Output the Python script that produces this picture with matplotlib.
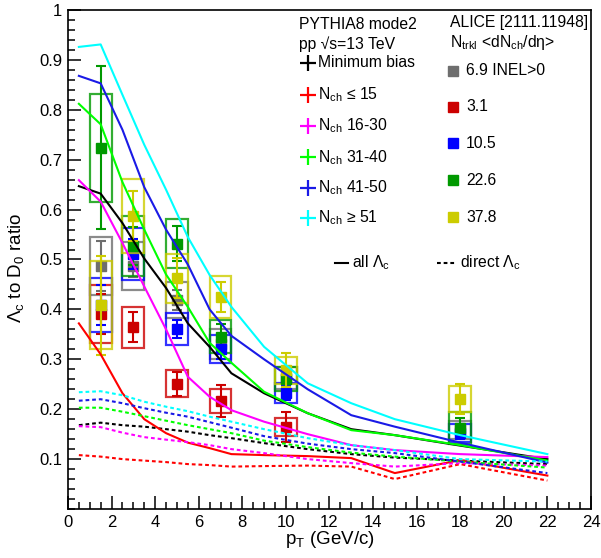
import numpy as np
import matplotlib.pyplot as plt
from matplotlib.patches import Rectangle
from matplotlib.ticker import MultipleLocator, FixedLocator

plt.rcParams['font.family'] = ['Liberation Sans', 'DejaVu Sans']
plt.rcParams['mathtext.fontset'] = 'custom'
plt.rcParams['mathtext.rm'] = 'Liberation Sans'
plt.rcParams['mathtext.it'] = 'Liberation Sans:italic'

# PYTHIA8 model curves, Lambda_c / D0 vs pT
pt_model = [0.5, 1.5, 2.5, 3.5, 4.5, 5.5, 6.5, 7.5, 9, 11, 13, 15, 18, 22]

all_mb   = [0.647, 0.632, 0.573, 0.502, 0.443, 0.372, 0.325, 0.272, 0.232, 0.192, 0.160, 0.148, 0.127, 0.100]
all_n15  = [0.372, 0.310, 0.232, 0.180, 0.152, 0.133, 0.122, 0.110, 0.108, 0.106, 0.102, 0.072, 0.098, 0.067]
all_n30  = [0.659, 0.616, 0.533, 0.446, 0.360, 0.265, 0.225, 0.198, 0.175, 0.150, 0.128, 0.118, 0.110, 0.104]
all_n40  = [0.812, 0.771, 0.655, 0.560, 0.470, 0.405, 0.333, 0.293, 0.235, 0.192, 0.158, 0.148, 0.128, 0.097]
all_n50  = [0.868, 0.853, 0.760, 0.645, 0.560, 0.490, 0.400, 0.347, 0.300, 0.240, 0.188, 0.165, 0.133, 0.093]
all_n51  = [0.926, 0.931, 0.830, 0.730, 0.640, 0.545, 0.469, 0.405, 0.325, 0.252, 0.212, 0.180, 0.148, 0.110]

dir_mb   = [0.168, 0.173, 0.168, 0.165, 0.160, 0.155, 0.148, 0.142, 0.132, 0.120, 0.110, 0.103, 0.097, 0.090]
dir_n15  = [0.108, 0.105, 0.100, 0.097, 0.094, 0.090, 0.088, 0.085, 0.086, 0.087, 0.085, 0.060, 0.090, 0.057]
dir_n30  = [0.166, 0.164, 0.153, 0.144, 0.139, 0.134, 0.128, 0.120, 0.112, 0.100, 0.092, 0.085, 0.092, 0.087]
dir_n40  = [0.203, 0.203, 0.195, 0.186, 0.177, 0.168, 0.160, 0.152, 0.137, 0.124, 0.113, 0.105, 0.095, 0.083]
dir_n50  = [0.217, 0.220, 0.212, 0.202, 0.193, 0.185, 0.174, 0.163, 0.146, 0.131, 0.120, 0.112, 0.095, 0.072]
dir_n51  = [0.234, 0.236, 0.228, 0.215, 0.205, 0.196, 0.185, 0.175, 0.160, 0.142, 0.128, 0.118, 0.100, 0.095]

model_colors = ['#000000', '#ff0000', '#ff00ff', '#00ff00', '#1a1ae6', '#00ffff']
model_labels = ['Minimum bias', 'N$_{\\mathrm{ch}}$ \u2264 15', 'N$_{\\mathrm{ch}}$ 16-30',
                'N$_{\\mathrm{ch}}$ 31-40', 'N$_{\\mathrm{ch}}$ 41-50', 'N$_{\\mathrm{ch}}$ \u2265 51']

# ALICE data [2111.11948]
pt_data = [1.5, 3, 5, 7, 10, 18]
box_halfwidth = 0.5

inel_y    = [0.487, 0.487, 0.418, 0.330, 0.262, 0.158]
inel_stat = [0.050, 0.022, 0.020, 0.015, 0.015, 0.012]
inel_sys  = [0.058, 0.048, 0.036, 0.030, 0.022, 0.018]

m31_y     = [0.390, 0.364, 0.251, 0.217, 0.165]
m31_stat  = [0.040, 0.030, 0.024, 0.032, 0.030]
m31_sys   = [0.058, 0.041, 0.027, 0.024, 0.018]

m105_y    = [0.409, 0.511, 0.360, 0.320, 0.233, 0.152]
m105_stat = [0.040, 0.030, 0.018, 0.020, 0.015, 0.012]
m105_sys  = [0.054, 0.052, 0.032, 0.028, 0.020, 0.018]

m226_y    = [0.724, 0.527, 0.532, 0.345, 0.260, 0.163]
m226_stat = [0.163, 0.038, 0.035, 0.025, 0.020, 0.020]
m226_sys  = [0.108, 0.060, 0.050, 0.033, 0.024, 0.032]

m378_y    = [0.408, 0.588, 0.462, 0.424, 0.278, 0.220]
m378_stat = [0.100, 0.050, 0.040, 0.030, 0.034, 0.030]
m378_sys  = [0.088, 0.074, 0.050, 0.042, 0.027, 0.026]

data_colors = ['#6e6e6e', '#cc0000', '#0000ff', '#009900', '#cccc00']
data_labels = ['6.9 INEL>0', '3.1', '10.5', '22.6', '37.8']

fig = plt.figure(figsize=(6.01, 5.58), dpi=100)
ax = fig.add_axes([0.1131, 0.0878, 0.8702, 0.8943])

# data: systematic boxes + stat error bars
datasets = [(inel_y, inel_stat, inel_sys), (m31_y, m31_stat, m31_sys),
            (m105_y, m105_stat, m105_sys), (m226_y, m226_stat, m226_sys),
            (m378_y, m378_stat, m378_sys)]
for k, (y, st, sy) in enumerate(datasets):
    c = data_colors[k]
    x = pt_data[:len(y)]
    for xi, yi, si in zip(x, y, sy):
        ax.add_patch(Rectangle((xi - box_halfwidth, yi - si), 2 * box_halfwidth, 2 * si,
                               fill=False, ec=c, lw=1.6, alpha=0.8, zorder=2 + k * 0.1))
    ax.errorbar(x, y, yerr=st, fmt='s', color=c, ms=7, elinewidth=1.5, capsize=3.5,
                capthick=1.5, zorder=2.05 + k * 0.1)

# model curves
all_curves = [all_mb, all_n15, all_n30, all_n40, all_n50, all_n51]
dir_curves = [dir_mb, dir_n15, dir_n30, dir_n40, dir_n50, dir_n51]
for c, ya, yd in zip(model_colors, all_curves, dir_curves):
    ax.plot(pt_model, ya, color=c, lw=1.5, zorder=4)
    ax.plot(pt_model, yd, color=c, lw=1.5, ls=(0, (1.8, 1.4)), zorder=4)

ax.set_xlim(0, 24)
ax.set_ylim(0, 1)
ax.xaxis.set_major_locator(MultipleLocator(2))
ax.xaxis.set_minor_locator(MultipleLocator(0.5))
ax.yaxis.set_major_locator(FixedLocator([0.1 * i for i in range(1, 11)]))
ax.yaxis.set_minor_locator(MultipleLocator(0.02))
ax.set_yticklabels(['0.1', '0.2', '0.3', '0.4', '0.5', '0.6', '0.7', '0.8', '0.9', '1'])
ax.tick_params(which='both', direction='in', top=False, right=False, labelsize=12, width=1.1)
ax.tick_params(which='major', length=9.5, pad=4)
ax.tick_params(which='minor', length=5)
for s in ax.spines.values():
    s.set_linewidth(1.2)

ax.text(0.5, -0.062, 'p$_{\\mathrm{T}}$ (GeV/c)', transform=ax.transAxes,
        ha='center', va='center', fontsize=13.5)
ax.text(-0.099, 0.483, '\u039b$_{\\mathrm{c}}$ to D$_{\\mathrm{0}}$ ratio', transform=ax.transAxes,
        rotation=90, ha='center', va='center', fontsize=13.5)

# legends drawn by hand, ROOT style
fs = 11.3
ax.text(0.4417, 0.970, 'PYTHIA8 mode2', transform=ax.transAxes, ha='left', va='center', fontsize=fs)
ax.text(0.4417, 0.932, 'pp \u221as=13 TeV', transform=ax.transAxes, ha='left', va='center', fontsize=fs)
rows_left = [0.894, 0.830, 0.768, 0.705, 0.643, 0.583]
for c, lab, yy in zip(model_colors, model_labels, rows_left):
    ax.plot([0.459], [yy], marker='+', ms=12, mew=1.6, color=c, transform=ax.transAxes, clip_on=False)
    ax.text(0.478, yy, lab, transform=ax.transAxes, ha='left', va='center', fontsize=fs)

ax.text(0.730, 0.974, 'ALICE [2111.11948]', transform=ax.transAxes, ha='left', va='center', fontsize=fs)
ax.text(0.730, 0.934, 'N$_{\\mathrm{trkl}}$ <dN$_{\\mathrm{ch}}$/d\u03b7>', transform=ax.transAxes,
        ha='left', va='center', fontsize=fs)
rows_right = [0.878, 0.806, 0.733, 0.659, 0.585]
for c, lab, yy in zip(data_colors, data_labels, rows_right):
    ax.plot([0.736], [yy], marker='s', ms=7, color=c, transform=ax.transAxes, clip_on=False)
    ax.text(0.761, yy, lab, transform=ax.transAxes, ha='left', va='center', fontsize=fs)

ax.plot([0.5105, 0.535], [0.493, 0.493], color='k', lw=1.5, transform=ax.transAxes)
ax.text(0.543, 0.493, 'all \u039b$_{\\mathrm{c}}$', transform=ax.transAxes, ha='left', va='center', fontsize=fs)
ax.plot([0.7055, 0.744], [0.493, 0.493], color='k', lw=1.5, ls=(0, (1.8, 1.4)), transform=ax.transAxes)
ax.text(0.75, 0.493, 'direct \u039b$_{\\mathrm{c}}$', transform=ax.transAxes, ha='left', va='center', fontsize=fs)

fig.savefig('out.png', dpi=100)
